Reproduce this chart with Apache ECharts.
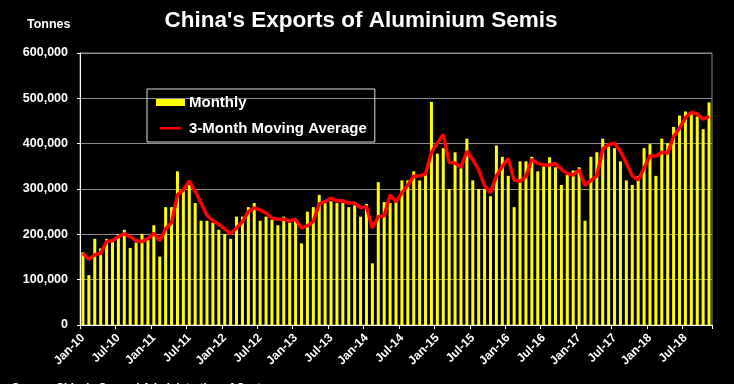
<!DOCTYPE html>
<html>
<head>
<meta charset="utf-8">
<script src="https://cdn.jsdelivr.net/npm/echarts@6/dist/echarts.min.js"></script>
<style>
html,body{margin:0;padding:0;background:#000;}
#chart{width:734px;height:384px;}
</style>
</head>
<body>
<div id="chart"></div>
<script>
// Category labels: Jan-10 .. Nov-18
const monthNames = ['Jan','Feb','Mar','Apr','May','Jun','Jul','Aug','Sep','Oct','Nov','Dec'];
const years = ['10','11','12','13','14','15','16','17','18'];
const categories = [];
years.forEach(function (y) { monthNames.forEach(function (m) { categories.push(m + '-' + y); }); });
categories.length = 107; // ends Nov-18

const yTicks = [0, 100000, 200000, 300000, 400000, 500000, 600000];

// Monthly exports, thousand tonnes
const monthly = [
  160,110,190,169,190,188,201,210,170,182,201,188,
  220,151,260,260,339,295,309,269,230,230,226,210,
  201,190,239,239,260,269,230,239,232,220,239,226,
  230,180,250,260,287,269,273,269,269,260,264,239,
  267,136,315,271,269,271,319,319,339,319,331,492,
  378,390,300,381,346,411,319,300,300,284,396,371,
  329,260,361,361,371,339,350,370,348,309,331,341,
  348,230,371,381,411,394,390,361,319,309,329,390,
  399,329,411,401,437,462,471,468,460,432,491
];

// 3-month moving average, thousand tonnes
const movingAvg = [
  158,145,155,158,184,186,195,201,195,186,184,191,
  202,186,212,226,287,298,318,295,269,242,230,222,
  212,201,214,228,250,258,254,247,236,233,233,230,
  233,214,219,228,267,272,280,274,274,269,269,259,
  261,214,239,241,287,272,291,309,328,329,333,381,
  401,420,359,357,348,383,365,342,307,292,329,350,
  367,320,317,328,365,357,353,353,356,344,334,331,
  342,308,319,329,388,398,401,383,357,329,320,346,
  373,373,381,379,416,434,457,469,466,454,460
];

const FONT = '"Liberation Sans", Arial, sans-serif';
const chart = echarts.init(document.getElementById('chart'), null, {renderer: 'canvas'});
function every6(i) { return i % 6 === 0; }

chart.setOption({
  backgroundColor: '#000',
  animation: false,
  graphic: [
    {type: 'text', x: 361, y: 9,
     style: {text: "China's Exports of Aluminium Semis", fill: '#fff', font: 'bold 22.5px ' + FONT, align: 'center', verticalAlign: 'top'}},
    {type: 'text', left: 27, top: 18,
     style: {text: 'Tonnes', fill: '#fff', font: 'bold 12.5px ' + FONT}},
    {type: 'text', left: 12, top: 382,
     style: {text: "Source: China's General Administration of Customs", fill: '#fff', font: 'bold 11px ' + FONT}}
  ],
  legend: {
    orient: 'vertical', left: 147, top: 89,
    padding: [6, 8, 6, 9],
    itemGap: 11,
    itemWidth: 29, itemHeight: 7,
    borderColor: '#ddd', borderWidth: 1,
    textStyle: {color: '#fff', fontFamily: FONT, fontWeight: 'bold', fontSize: 15, padding: [0, 0, 0, -1]},
    data: [
      {name: 'Monthly', icon: 'rect'},
      {name: '3-Month Moving Average', icon: 'path://M0,0h30v0.01h-30z M0,3h30v3.5h-30z M0,9.99h30v0.01h-30z'}
    ]
  },
  grid: {left: 80, right: 22, top: 53, bottom: 59, show: true, borderColor: '#8c8c8c', borderWidth: 1},
  xAxis: {
    type: 'category', data: categories, boundaryGap: true,
    axisLine: {lineStyle: {color: '#fff', width: 1}},
    axisTick: {show: true, interval: function (i) { return every6(i); }, length: 4, lineStyle: {color: '#fff'}},
    axisLabel: {
      interval: function (i) { return every6(i); },
      rotate: 45, color: '#fff', fontFamily: FONT, fontWeight: 'bold', fontSize: 12, margin: 11
    },
    splitLine: {show: false}
  },
  yAxis: {
    type: 'value', min: 0, max: 600000, interval: 100000,
    axisLine: {show: true, lineStyle: {color: '#fff'}},
    axisTick: {show: true, length: 3, lineStyle: {color: '#fff'}},
    axisLabel: {
      color: '#fff', fontFamily: FONT, fontWeight: 'bold', fontSize: 12.5, margin: 12,
      formatter: function (v) { return yTicks.indexOf(v) >= 0 ? v.toLocaleString('en-US') : ''; }
    },
    splitLine: {show: true, lineStyle: {color: '#8c8c8c', width: 1}}
  },
  series: [
    {
      name: 'Monthly', type: 'bar', barWidth: 3,
      itemStyle: {color: '#ffff00'},
      data: monthly.map(function (v) { return v * 1000; })
    },
    {
      name: '3-Month Moving Average', type: 'line', symbol: 'none',
      lineStyle: {color: '#ff0000', width: 3.5}, itemStyle: {color: '#ff0000'},
      data: movingAvg.map(function (v) { return v * 1000; }), z: 5
    }
  ]
});
</script>
</body>
</html>
